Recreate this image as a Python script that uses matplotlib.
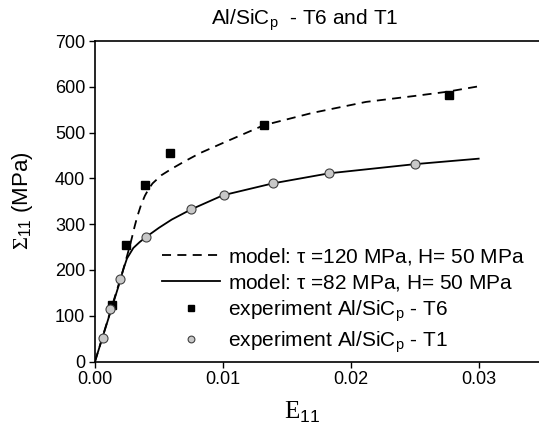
import matplotlib
matplotlib.use("Agg")
import matplotlib.pyplot as plt
from matplotlib.ticker import FixedLocator, FixedFormatter

plt.rcParams['font.family'] = ['Liberation Sans', 'DejaVu Sans']
plt.rcParams['mathtext.fontset'] = 'custom'
plt.rcParams['mathtext.rm'] = 'Liberation Serif'
plt.rcParams['mathtext.sf'] = 'Liberation Sans'
plt.rcParams['mathtext.it'] = 'Liberation Serif:italic'
plt.rcParams['mathtext.default'] = 'regular'

# ---- data ----
model_t6_x = [0.0, 0.0022, 0.0025, 0.0027, 0.0029, 0.0031, 0.0033, 0.0036, 0.0039, 0.0042,
              0.0045, 0.0052, 0.0060, 0.0070, 0.0082, 0.0099, 0.0132, 0.0170, 0.0212,
              0.0250, 0.0275, 0.0302]
model_t6_y = [0, 200, 230, 250, 272, 295, 316, 342, 362, 377,
              389, 407, 421, 437, 455, 476, 516, 543, 567,
              580, 589, 602]

model_t1_x = [0.0, 0.0019, 0.0022, 0.0025, 0.0030, 0.0035, 0.0040, 0.0050, 0.0060, 0.0075,
              0.0100, 0.0139, 0.0183, 0.0250, 0.0300]
model_t1_y = [0, 170, 200, 225, 248, 261, 272, 292, 310, 332, 363, 389, 411, 431, 443]

exp_t6_x = [0.0013, 0.00242, 0.00393, 0.00586, 0.01324, 0.02765]
exp_t6_y = [123, 254, 386, 455, 516, 583]

exp_t1_x = [0.00066, 0.00117, 0.00198, 0.0040, 0.00748, 0.0101, 0.0139, 0.01827, 0.0250]
exp_t1_y = [51, 114, 181, 271, 332, 364, 389, 411, 431]

x_ticks = [0.0, 0.01, 0.02, 0.03]
x_tick_labels = ['0.00', '0.01', '0.02', '0.03']
y_ticks = [0, 100, 200, 300, 400, 500, 600, 700]

W, H = 539, 425
fig = plt.figure(figsize=(W / 100, H / 100), dpi=100)
ax = fig.add_axes([95 / W, 1 - 361.5 / H, 447.6 / W, 320.5 / H])

l1, = ax.plot(model_t6_x, model_t6_y, color='black', lw=1.3, ls=(0, (5, 3.5)),
              label=r'model: $\tau$ =120 MPa, H= 50 MPa')
l2, = ax.plot(model_t1_x, model_t1_y, color='black', lw=1.3, ls='-',
              label=r'model: $\tau$ =82 MPa, H= 50 MPa')
s1, = ax.plot(exp_t6_x, exp_t6_y, ls='none', marker='s', ms=5.5, mfc='black', mec='black',
              label=r'experiment Al/SiC$_{p}$ - T6')
s2, = ax.plot(exp_t1_x, exp_t1_y, ls='none', marker='o', ms=6.5, mfc='#c8c8c8', mec='#404040',
              mew=0.8, label=r'experiment Al/SiC$_{p}$ - T1')

ax.set_xlim(0, 0.035)
ax.set_ylim(0, 700)
ax.xaxis.set_major_locator(FixedLocator(x_ticks))
ax.xaxis.set_major_formatter(FixedFormatter(x_tick_labels))
ax.yaxis.set_major_locator(FixedLocator(y_ticks))
ax.tick_params(direction='out', length=4, width=1, labelsize=13, pad=3)
for sp in ['left', 'bottom', 'top']:
    ax.spines[sp].set_linewidth(1.2)
ax.spines['right'].set_visible(False)

ax.set_xlabel(r'$\mathrm{E}_{\mathsf{11}}$', fontsize=18)
ax.xaxis.set_label_coords((302 - 95) / 447.6, -0.12)
ax.set_ylabel(r'$\mathrm{\Sigma}_{\mathsf{11}}$ (MPa)', fontsize=16)
ax.yaxis.set_label_coords(-0.135, 0.5)

fig.text(305 / W, 1 - 20 / H, r'Al/SiC$_{p}$  - T6 and T1', ha='center', va='center', fontsize=15)

leg = ax.legend(handles=[l1, l2, s1, s2], loc='upper left', frameon=False,
                bbox_to_anchor=(162 / W, 1 - 246 / H), bbox_transform=fig.transFigure,
                borderaxespad=0, borderpad=0, fontsize=15, handlelength=2.8,
                handletextpad=0.35, labelspacing=0.25, markerscale=0.75, numpoints=1)

fig.savefig('out.png', dpi=100)
